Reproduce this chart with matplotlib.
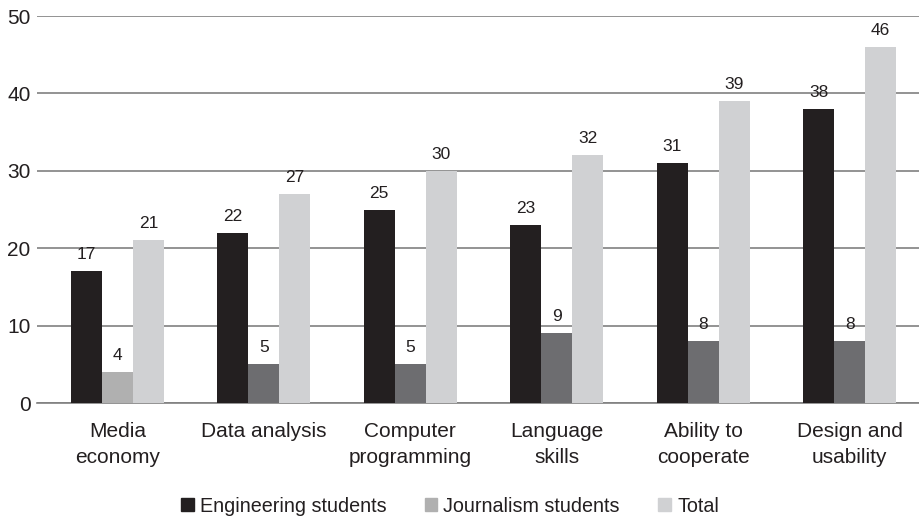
import matplotlib
matplotlib.use("Agg")
import matplotlib.pyplot as plt
import numpy as np
from matplotlib.patches import Patch

categories = ["Media\neconomy", "Data analysis", "Computer\nprogramming",
              "Language\nskills", "Ability to\ncooperate", "Design and\nusability"]
engineering = [17, 22, 25, 23, 31, 38]
journalism = [4, 5, 5, 9, 8, 8]
total = [21, 27, 30, 32, 39, 46]
series_names = ["Engineering students", "Journalism students", "Total"]
yticks = [0, 10, 20, 30, 40, 50]

plt.rcParams['font.family'] = ['Liberation Sans', 'DejaVu Sans']

fig = plt.figure(figsize=(9.2, 5.19), dpi=100)
ax = fig.add_axes([0.040, 0.2235, 0.96, 0.7455])

x = np.arange(len(categories))
w = 0.2116
c_eng = "#231f20"
c_jour_leg = "#b0b0b0"
c_jour = ["#b0b0b0"] + ["#6d6d70"] * (len(categories) - 1)
c_tot = "#d0d1d3"
txt = "#231f20"

b1 = ax.bar(x - w, engineering, w, color=c_eng, zorder=3)
b2 = ax.bar(x, journalism, w, color=c_jour, zorder=3)
b3 = ax.bar(x + w, total, w, color=c_tot, zorder=3)

for bars, vals in ((b1, engineering), (b2, journalism), (b3, total)):
    for b, v in zip(bars, vals):
        ax.annotate(str(v), (b.get_x() + b.get_width() / 2, v),
                    xytext=(0, 6.5), textcoords="offset points",
                    ha="center", va="bottom", fontsize=12.5, color=txt)

ax.set_xlim(-0.55, 5.48)
ax.set_ylim(0, 50)
ax.set_yticks(yticks)
ax.set_yticklabels([str(t) for t in yticks], fontsize=15, color=txt)
ax.set_xticks(x)
ax.set_xticklabels(categories, fontsize=15, color=txt, linespacing=1.5)
ax.tick_params(axis="x", length=0, pad=13.5)
ax.tick_params(axis="y", length=0, pad=4.5)
ax.grid(axis="y", color="#808080", linewidth=1.2, zorder=0)
for s in ["left", "right", "top"]:
    ax.spines[s].set_visible(False)
ax.spines["bottom"].set_color("#808080")
ax.spines["bottom"].set_linewidth(1.2)

handles = [Patch(color=c_eng), Patch(color=c_jour_leg), Patch(color=c_tot)]
fig.legend(handles, series_names, loc="lower center", bbox_to_anchor=(0.489, -0.0275),
           ncol=3, frameon=False, fontsize=14.2, handlelength=0.65, handleheight=0.65,
           handletextpad=0.3, columnspacing=1.95, labelcolor=txt)

fig.savefig("out.png", dpi=100)
